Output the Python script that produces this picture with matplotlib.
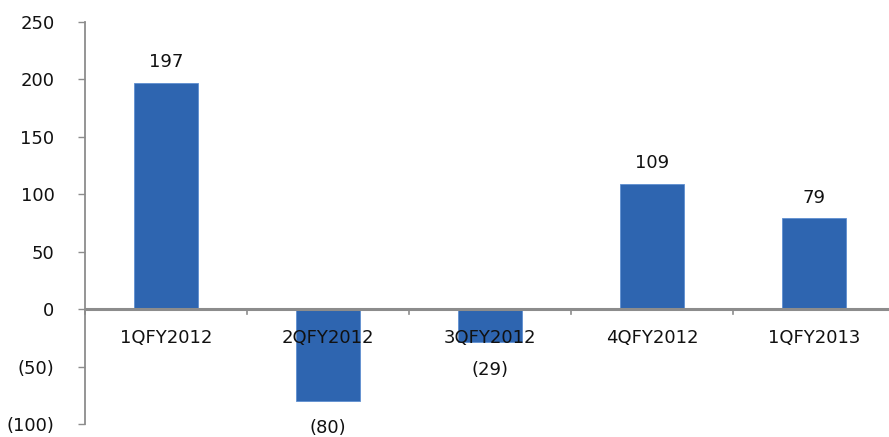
import matplotlib
matplotlib.use("Agg")
import matplotlib.pyplot as plt
from matplotlib.ticker import FuncFormatter, FixedLocator
import numpy as np

categories = ["1QFY2012", "2QFY2012", "3QFY2012", "4QFY2012", "1QFY2013"]
values = [197, -80, -29, 109, 79]
y_ticks = [-100, -50, 0, 50, 100, 150, 200, 250]

plt.rcParams["font.family"] = ["DejaVu Sans"]

W, H = 889, 437
fig = plt.figure(figsize=(W / 100, H / 100), dpi=100)
left, right, top, bottom = 85, 895, 22, 424
ax = fig.add_axes([left / W, 1 - bottom / H, (right - left) / W, (bottom - top) / H])

bar_color = "#2E65B0"
axis_color = "#8C8C8C"
text_color = "#111111"
fs = 13
x = np.arange(len(categories))
ax.bar(x, values, width=0.4, color=bar_color, edgecolor="#5F8FD0", linewidth=0.6, zorder=2)

ax.set_xlim(-0.5, len(categories) - 0.5)
ax.set_ylim(-100, 250)
ax.yaxis.set_major_locator(FixedLocator(y_ticks))
ax.yaxis.set_major_formatter(FuncFormatter(lambda v, p: f"({abs(int(v))})" if v < 0 else f"{int(v)}"))
ax.tick_params(axis="y", direction="out", length=5, width=1, color=axis_color,
               labelsize=fs, pad=17, labelcolor=text_color)

for s in ["top", "right", "bottom"]:
    ax.spines[s].set_visible(False)
ax.spines["left"].set_color(axis_color)
ax.spines["left"].set_linewidth(1.3)

# zero line acting as the category axis
ax.axhline(0, color=axis_color, linewidth=2.2, zorder=3)
ax.set_xticks([])
for b in np.arange(len(categories) + 1) - 0.5:
    ax.plot([b, b], [0, -4.5], color=axis_color, linewidth=1.2, zorder=3, clip_on=False)

for xi, cat in zip(x, categories):
    ax.text(xi, -17, cat, ha="center", va="top", fontsize=fs, color=text_color, zorder=4)

for xi, v in zip(x, values):
    if v >= 0:
        ax.text(xi, v + 10, f"{v}", ha="center", va="bottom", fontsize=fs, color=text_color)
    else:
        ax.text(xi, v - 16, f"({abs(v)})", ha="center", va="top", fontsize=fs, color=text_color,
                clip_on=False)

fig.savefig("out.png", dpi=100)
